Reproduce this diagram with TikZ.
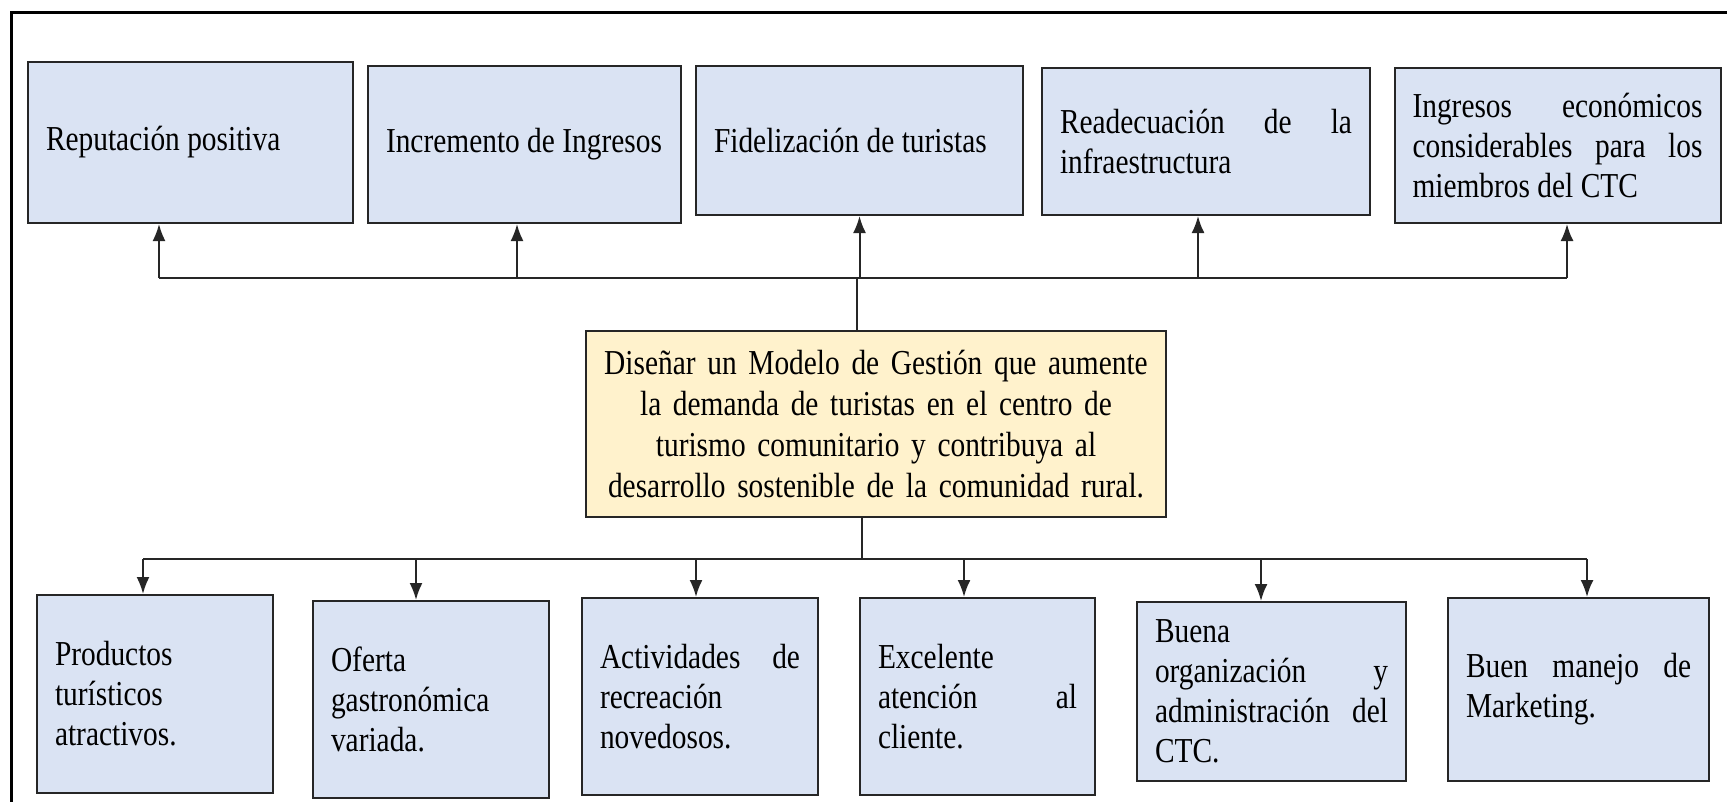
\documentclass[tikz,border=0pt]{standalone}
\usepackage{fontspec}
\setmainfont{Liberation Serif}[FakeStretch=0.84]
\usetikzlibrary{calc}
\usetikzlibrary{arrows.meta}
\definecolor{azul}{HTML}{DAE3F3}
\definecolor{crema}{HTML}{FFF2CC}
\definecolor{borde}{HTML}{262626}
\tolerance=10000
\hyphenpenalty=10000
\tikzset{
every picture/.style={
line width=1pt
},
caja/.style={draw=borde, fill=azul, inner xsep=9pt, inner ysep=2pt, align=justify,
  font=\fontsize{17.5}{20}\selectfont},
meta/.style={caja, fill=crema, align=center, inner xsep=4pt, font=\fontsize{17.5}{20.5}\selectfont},
flecha/.style={draw=borde, -{Latex[length=8.5pt,width=6.5pt]}}
}

\begin{document}
\begin{tikzpicture}[x=0.5pt, y=-0.5pt]
  \useasboundingbox (0,0) rectangle (1727,802);
  \draw [line width=1.5pt] (11,815) |- (1740,13);

  % efectos
  \node [caja, text width=144.5pt, minimum height=80.5pt] at (190.5,142.5) (ef1) {Reputación positiva};
  \node [caja, text width=138.5pt, minimum height=78.5pt] at (524.5,144.5) (ef2) {Incremento de Ingresos};
  \node [caja, text width=145.5pt, minimum height=74.5pt] at (859.5,140.5) (ef3) {Fidelización de turistas};
  \node [caja, text width=146pt, minimum height=73.5pt] at (1206,141.5) (ef4) {Readecuación de la\linebreak infraestructura};
  \node [caja, text width=145pt, minimum height=77.5pt] at (1557.5,145.5) (ef5) {Ingresos económicos\linebreak considerables para los\linebreak miembros del CTC};

  % objetivo
  \node [meta, text width=282pt, minimum height=93pt] at (876,424) (goal) {Diseñar un Modelo de Gestión que aumente\\la demanda de turistas en el centro de\\turismo comunitario y contribuya al\\desarrollo sostenible de la comunidad rural.};

  % medios
  \node [caja, text width=100pt, minimum height=99pt] at (155,694) (c1) {Productos\\turísticos\\atractivos.};
  \node [caja, text width=100pt, minimum height=98.5pt] at (431,699.5) (c2) {Oferta\\gastronómica\\variada.};
  \node [caja, text width=100pt, minimum height=98.5pt] at (700,696.5) (c3) {Actividades de\linebreak recreación\\novedosos.};
  \node [caja, text width=99.5pt, minimum height=98.5pt] at (977.5,696.5) (c4) {Excelente\\atención al\linebreak cliente.};
  \node [caja, text width=116.5pt, minimum height=89.5pt] at (1271.5,691.5) (c5) {Buena\\organización y\linebreak administración del\linebreak CTC.};
  \node [caja, text width=112.5pt, minimum height=91.5pt] at (1578.5,689.5) (c6) {Buen manejo de\linebreak Marketing.};

  % conectores arriba
  \coordinate (tbus) at (0,278);
  \draw [borde] ($(goal.north)+(-19,0)$) -- ($(goal.north |- tbus)+(-19,0)$);
  \draw [borde] ($(ef1.south |- tbus)+(-31.5,0)$) -- ($(ef5.south |- tbus)+(9.5,0)$);
  \foreach \n/\dx in {ef1/-31.5, ef2/-7.5, ef3/0, ef4/-8, ef5/9.5}
    \draw [flecha] ($(\n.south |- tbus)+(\dx,0)$) -- ($(\n.south)+(\dx,0)$);

  % conectores abajo
  \coordinate (bbus) at (0,559);
  \draw [borde] ($(goal.south)+(-14,0)$) -- ($(goal.south |- bbus)+(-14,0)$);
  \draw [borde] ($(c1.north |- bbus)+(-12,0)$) -- ($(c6.north |- bbus)+(8.5,0)$);
  \foreach \n/\dx in {c1/-12, c2/-15, c3/-4, c4/-13.5, c5/-10.5, c6/8.5}
    \draw [flecha] ($(\n.north |- bbus)+(\dx,0)$) -- ($(\n.north)+(\dx,0)$);
\end{tikzpicture}
\end{document}
